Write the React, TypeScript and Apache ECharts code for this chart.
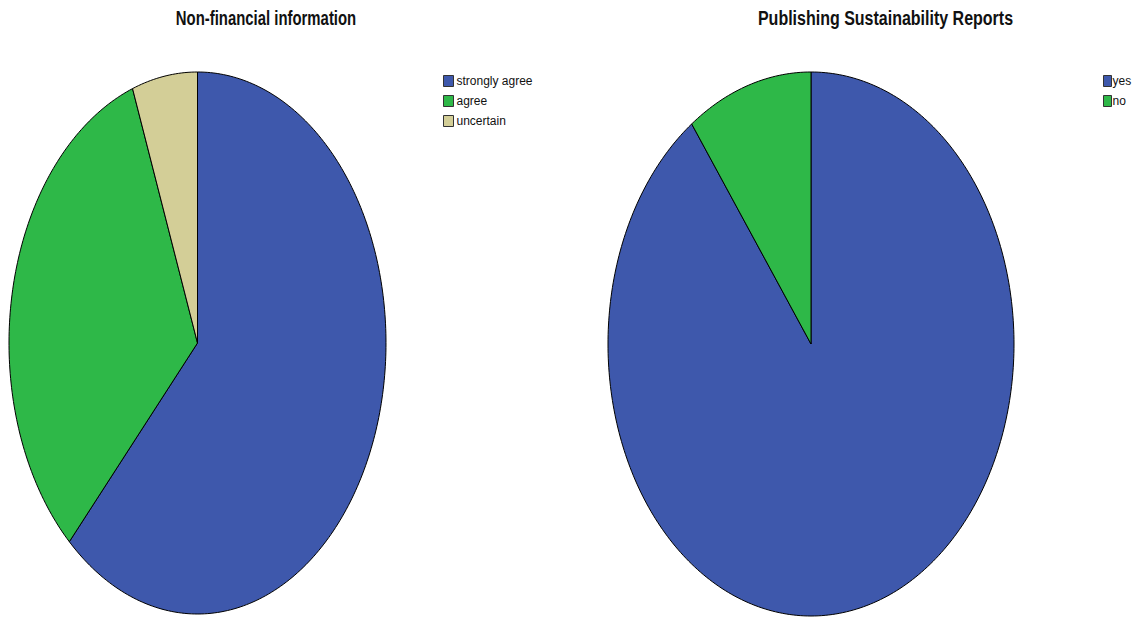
import React, { useEffect, useRef } from "react";
import * as echarts from "echarts";

const leftTitle = "Non-financial information";
const leftCats = ["strongly agree", "agree", "uncertain"];
const leftValues = [61.9, 32.5, 5.6];
const rightTitle = "Publishing Sustainability Reports";
const rightCats = ["yes", "no"];
const rightValues = [90, 10];

const leftColors = ["#3e58ac", "#2eb848", "#d3ce97"];
const rightColors = ["#3e58ac", "#2eb848"];

type Geom = { cx: number; cy: number; rx: number; ry: number };

function sliceSeries(cats: string[], values: number[], colors: string[], g: Geom) {
  const total = values.reduce((a, b) => a + b, 0);
  return cats.map((name, i) => {
    const before = values.slice(0, i).reduce((a, b) => a + b, 0);
    return {
      type: "custom",
      name,
      coordinateSystem: "none",
      itemStyle: { color: colors[i] },
      data: [[values[i]]],
      renderItem: (_params: any, api: any) => {
        const start = (before / total) * Math.PI * 2;
        const end = ((before + api.value(0)) / total) * Math.PI * 2;
        const steps = Math.max(8, Math.ceil(((end - start) / (Math.PI * 2)) * 360));
        const pts: number[][] = [[g.cx, g.cy]];
        for (let k = 0; k <= steps; k++) {
          const t = start + ((end - start) * k) / steps;
          pts.push([g.cx + g.rx * Math.sin(t), g.cy - g.ry * Math.cos(t)]);
        }
        return {
          type: "polygon",
          shape: { points: pts },
          style: { fill: colors[i], stroke: "#000", lineWidth: 1, lineJoin: "round" },
        };
      },
    };
  });
}

export default function App() {
  const ref = useRef<HTMLDivElement>(null);
  useEffect(() => {
    if (!ref.current) return;
    const chart = echarts.init(ref.current, undefined, { renderer: "svg" });
    const legendText = {
      fontFamily: "'Liberation Sans', Arial, sans-serif",
      fontSize: 12,
      color: "#111",
    };
    const titleStyle = {
      fontFamily: "'Liberation Sans', Arial, sans-serif",
      fontSize: 20,
      fontWeight: "bold",
      fill: "#111",
      align: "center",
      verticalAlign: "middle",
    };
    chart.setOption({
      animation: false,
      backgroundColor: "#fff",
      graphic: [
        {
          type: "text",
          x: 266,
          y: 18,
          scaleX: 0.745,
          style: { ...titleStyle, text: leftTitle },
        },
        {
          type: "text",
          x: 885.5,
          y: 18,
          scaleX: 0.8,
          style: { ...titleStyle, text: rightTitle },
        },
      ],
      legend: [
        {
          orient: "vertical",
          left: 443,
          top: 75,
          padding: 0,
          itemWidth: 10,
          itemHeight: 11,
          itemGap: 8,
          icon: "rect",
          itemStyle: { borderColor: "#333", borderWidth: 1 },
          textStyle: { ...legendText, padding: [0, 0, 0, -2] },
          data: leftCats,
        },
        {
          orient: "vertical",
          left: 1103,
          top: 75,
          padding: 0,
          itemWidth: 8,
          itemHeight: 11,
          itemGap: 8,
          icon: "rect",
          itemStyle: { borderColor: "#333", borderWidth: 1 },
          textStyle: { ...legendText, padding: [0, 0, 0, -4] },
          data: rightCats,
        },
      ],
      series: [
        ...sliceSeries(leftCats, leftValues, leftColors, { cx: 197.5, cy: 343, rx: 188.5, ry: 271 }),
        ...sliceSeries(rightCats, rightValues, rightColors, { cx: 811, cy: 344, rx: 203, ry: 272 }),
      ],
    });
    return () => chart.dispose();
  }, []);
  return (
    <div
      ref={ref}
      style={{ position: "fixed", left: 0, top: 0, width: 1136, height: 617 }}
    />
  );
}
